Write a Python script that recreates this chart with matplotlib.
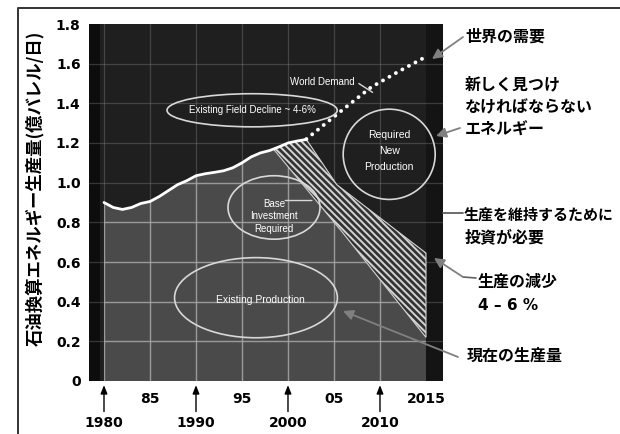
import numpy as np
import matplotlib.pyplot as plt
from matplotlib.patches import Ellipse
from matplotlib.lines import Line2D

plt.rcParams['hatch.linewidth'] = 1.4
plt.rcParams['hatch.color'] = '#d4d4d4'

jp = ['Noto Sans CJK JP', 'DejaVu Sans']

# production history (world, oil-equivalent, 100M bbl/day)
prod_years = np.arange(1980, 2003)
prod_vals = np.array([0.90, 0.875, 0.865, 0.875, 0.895, 0.905, 0.93, 0.96, 0.99, 1.01,
                      1.035, 1.045, 1.052, 1.06, 1.075, 1.10, 1.13, 1.15, 1.162, 1.18,
                      1.20, 1.21, 1.218])

# world demand outlook (dotted)
demand_years = [2002, 2006, 2009, 2012, 2015]
demand_vals = [1.22, 1.37, 1.48, 1.56, 1.635]

# decline with base investment (upper edge of hatch)
hi_years = np.array([2002, 2005.3, 2015])
hi_vals = np.array([1.218, 0.99, 0.645])

# decline of existing production (lower edge of hatch)
lo_years = np.array([1998.5, 2006, 2015])
lo_vals = np.array([1.165, 0.745, 0.22])

y_ticks = [0, 0.2, 0.4, 0.6, 0.8, 1.0, 1.2, 1.4, 1.6, 1.8]
y_labels = ['0', '0.2', '0.4', '0.6', '0.8', '1.0', '1.2', '1.4', '1.6', '1.8']
x_ticks = [1985, 1995, 2005, 2015]
x_labels = ['85', '95', '05', '2015']
decade_years = [1980, 1990, 2000, 2010]
grid_years = [1980, 1985, 1990, 1995, 2000, 2005, 2010]
grid_vals = [0.2, 0.4, 0.6, 0.8, 1.0, 1.2, 1.4, 1.6]

fig = plt.figure(figsize=(6.2, 4.34), dpi=100)
ax = fig.add_axes([89 / 620, 53 / 434, 354 / 620, 357 / 434])
ax.set_facecolor('#1f1f1f')
ax.set_xlim(1978.37, 2016.85)
ax.set_ylim(0, 1.8)
for s in ax.spines.values():
    s.set_visible(False)

ax.axvspan(1978.37, 1979.6, color='#0d0d0d', lw=0, zorder=0.5)
ax.axvspan(2015, 2016.85, color='#141414', lw=0, zorder=0.5)

# existing production area
pre = prod_years < lo_years[0]
gx = np.r_[prod_years[pre], lo_years, lo_years[-1], prod_years[0]]
gy = np.r_[prod_vals[pre], lo_vals, 0, 0]
gray = ax.fill(gx, gy, color='#4a4a4a', lw=0, zorder=1)[0]

# hatched band (base investment required)
mid = prod_years > lo_years[0]
hx = np.r_[lo_years[0], prod_years[mid], hi_years[1:], lo_years[::-1]]
hy = np.r_[lo_vals[0], prod_vals[mid], hi_vals[1:], lo_vals[::-1]]
ax.fill(hx, hy, facecolor='#333333', edgecolor='#d4d4d4', hatch='\\' * 5, lw=0.8, zorder=2)

# grid: faint everywhere, brighter inside the grey area
for g in grid_years:
    ax.axvline(g, color='#9a9a9a', lw=0.9, alpha=0.3, zorder=1.5)
    ln = ax.axvline(g, color='#a8a8a8', lw=1.0, alpha=0.8, zorder=1.6)
    ln.set_clip_path(gray)
for g in grid_vals:
    ax.axhline(g, color='#9a9a9a', lw=0.9, alpha=0.3, zorder=1.5)
    ln = ax.axhline(g, color='#a8a8a8', lw=1.0, alpha=0.8, zorder=1.6)
    ln.set_clip_path(gray)

ax.plot(prod_years, prod_vals, color='white', lw=2, zorder=4, solid_capstyle='round')
ax.plot(demand_years, demand_vals, color='white', lw=2.8, ls=(0, (0.01, 1.9)),
        dash_capstyle='round', zorder=4)

# ellipses and labels inside the plot
lab = dict(color='white', fontsize=7, family='Liberation Sans', ha='center', va='center', zorder=6)
ell = dict(fill=False, ec='#d8d8d8', lw=1.2, zorder=5)
ax.add_patch(Ellipse((1996.1, 1.365), 18.5, 0.167, **ell))
ax.text(1996.1, 1.365, 'Existing Field Decline ~ 4-6%', **lab)
ax.text(2003.7, 1.507, 'World Demand', **lab)
ax.annotate('', xy=(2009.2, 1.455), xytext=(2007.7, 1.50),
            arrowprops=dict(arrowstyle='-', color='#d8d8d8', lw=1, shrinkA=0, shrinkB=0))
ax.add_patch(Ellipse((2011.0, 1.143), 10.0, 0.455, **ell))
ax.text(2011.0, 1.16, 'Required\nNew\nProduction', linespacing=1.7, fontsize=7.5,
        **{k: v for k, v in lab.items() if k != 'fontsize'})
ax.add_patch(Ellipse((1998.48, 0.875), 10.0, 0.32, **ell))
ax.text(1998.5, 0.83, 'Base\nInvestment\nRequired', linespacing=1.35, **lab)
ax.annotate('', xy=(2002.6, 0.91), xytext=(1999.7, 0.91),
            arrowprops=dict(arrowstyle='-', color='#d8d8d8', lw=1, shrinkA=0, shrinkB=0))
ax.add_patch(Ellipse((1996.52, 0.42), 17.7, 0.404, **ell))
ax.text(1997.0, 0.41, 'Existing Production', fontsize=7.5,
        **{k: v for k, v in lab.items() if k != 'fontsize'})

# axes ticks
ax.set_yticks(y_ticks, y_labels)
ax.set_xticks(x_ticks, x_labels)
ax.tick_params(length=0, labelsize=10)
ax.tick_params(axis='y', pad=6)
ax.tick_params(axis='x', pad=8)
for t in ax.get_xticklabels() + ax.get_yticklabels():
    t.set_fontweight('bold')

for yr in decade_years:
    ax.annotate('', xy=(yr, 0), xytext=(0, -22), textcoords='offset points',
                annotation_clip=False,
                arrowprops=dict(arrowstyle='-|>,head_length=0.5,head_width=0.2',
                                color='black', lw=1, shrinkA=0, shrinkB=3))
    ax.annotate(str(yr), xy=(yr, 0), xytext=(0, -30), textcoords='offset points',
                ha='center', va='center', fontsize=10, fontweight='bold',
                annotation_clip=False)

fig.text(35 / 620, 1 - 188 / 434, '石油換算エネルギー生産量(億バレル/日)', rotation=90,
         ha='center', va='center', fontsize=12.5, fontweight='bold', family=jp)


def fpx(x, y):
    return (x, 434 - y)


side = [('世界の需要', 465, 37, 11.5), ('新しく見つけ', 465, 84, 11.5),
        ('なければならない', 465, 107, 11.5), ('エネルギー', 465, 130, 11.5),
        ('生産を維持するために', 464, 215, 10.8), ('投資が必要', 465, 237, 11.5),
        ('生産の減少', 478, 282, 11.5), ('現在の生産量', 467, 356, 11.5)]
for s, x, y, fs in side:
    fig.text(x / 620, 1 - y / 434, s, fontsize=fs, fontweight='bold', family=jp, va='center')
fig.text(478 / 620, 1 - 306 / 434, '4 – 6 %', fontsize=11, fontweight='bold', va='center')

arr = dict(arrowstyle='-|>,head_length=0.6,head_width=0.3', color='#808080', lw=1.3,
           shrinkA=0, shrinkB=0)
for head, tail in [((432, 59), (463, 37)), ((436, 136), (460, 128)),
                   ((434, 258), (463, 277)), ((343, 311), (458, 357))]:
    ax.annotate('', xy=fpx(*head), xycoords='figure pixels', xytext=fpx(*tail),
                textcoords='figure pixels', arrowprops=arr, annotation_clip=False, zorder=7)
ax.annotate('', xy=fpx(443, 213), xycoords='figure pixels', xytext=fpx(463, 213),
            textcoords='figure pixels', annotation_clip=False,
            arrowprops=dict(arrowstyle='-', color='#606060', lw=1.3, shrinkA=0, shrinkB=0))
ax.annotate('', xy=fpx(476, 278), xycoords='figure pixels', xytext=fpx(463, 277),
            textcoords='figure pixels', annotation_clip=False,
            arrowprops=dict(arrowstyle='-', color='#606060', lw=1.2, shrinkA=0, shrinkB=0))

fig.add_artist(Line2D([18 / 620, 18 / 620, 1], [0, 1 - 8 / 434, 1 - 8 / 434],
                      transform=fig.transFigure, color='#333333', lw=1.4))

fig.savefig('out.png', dpi=100)
